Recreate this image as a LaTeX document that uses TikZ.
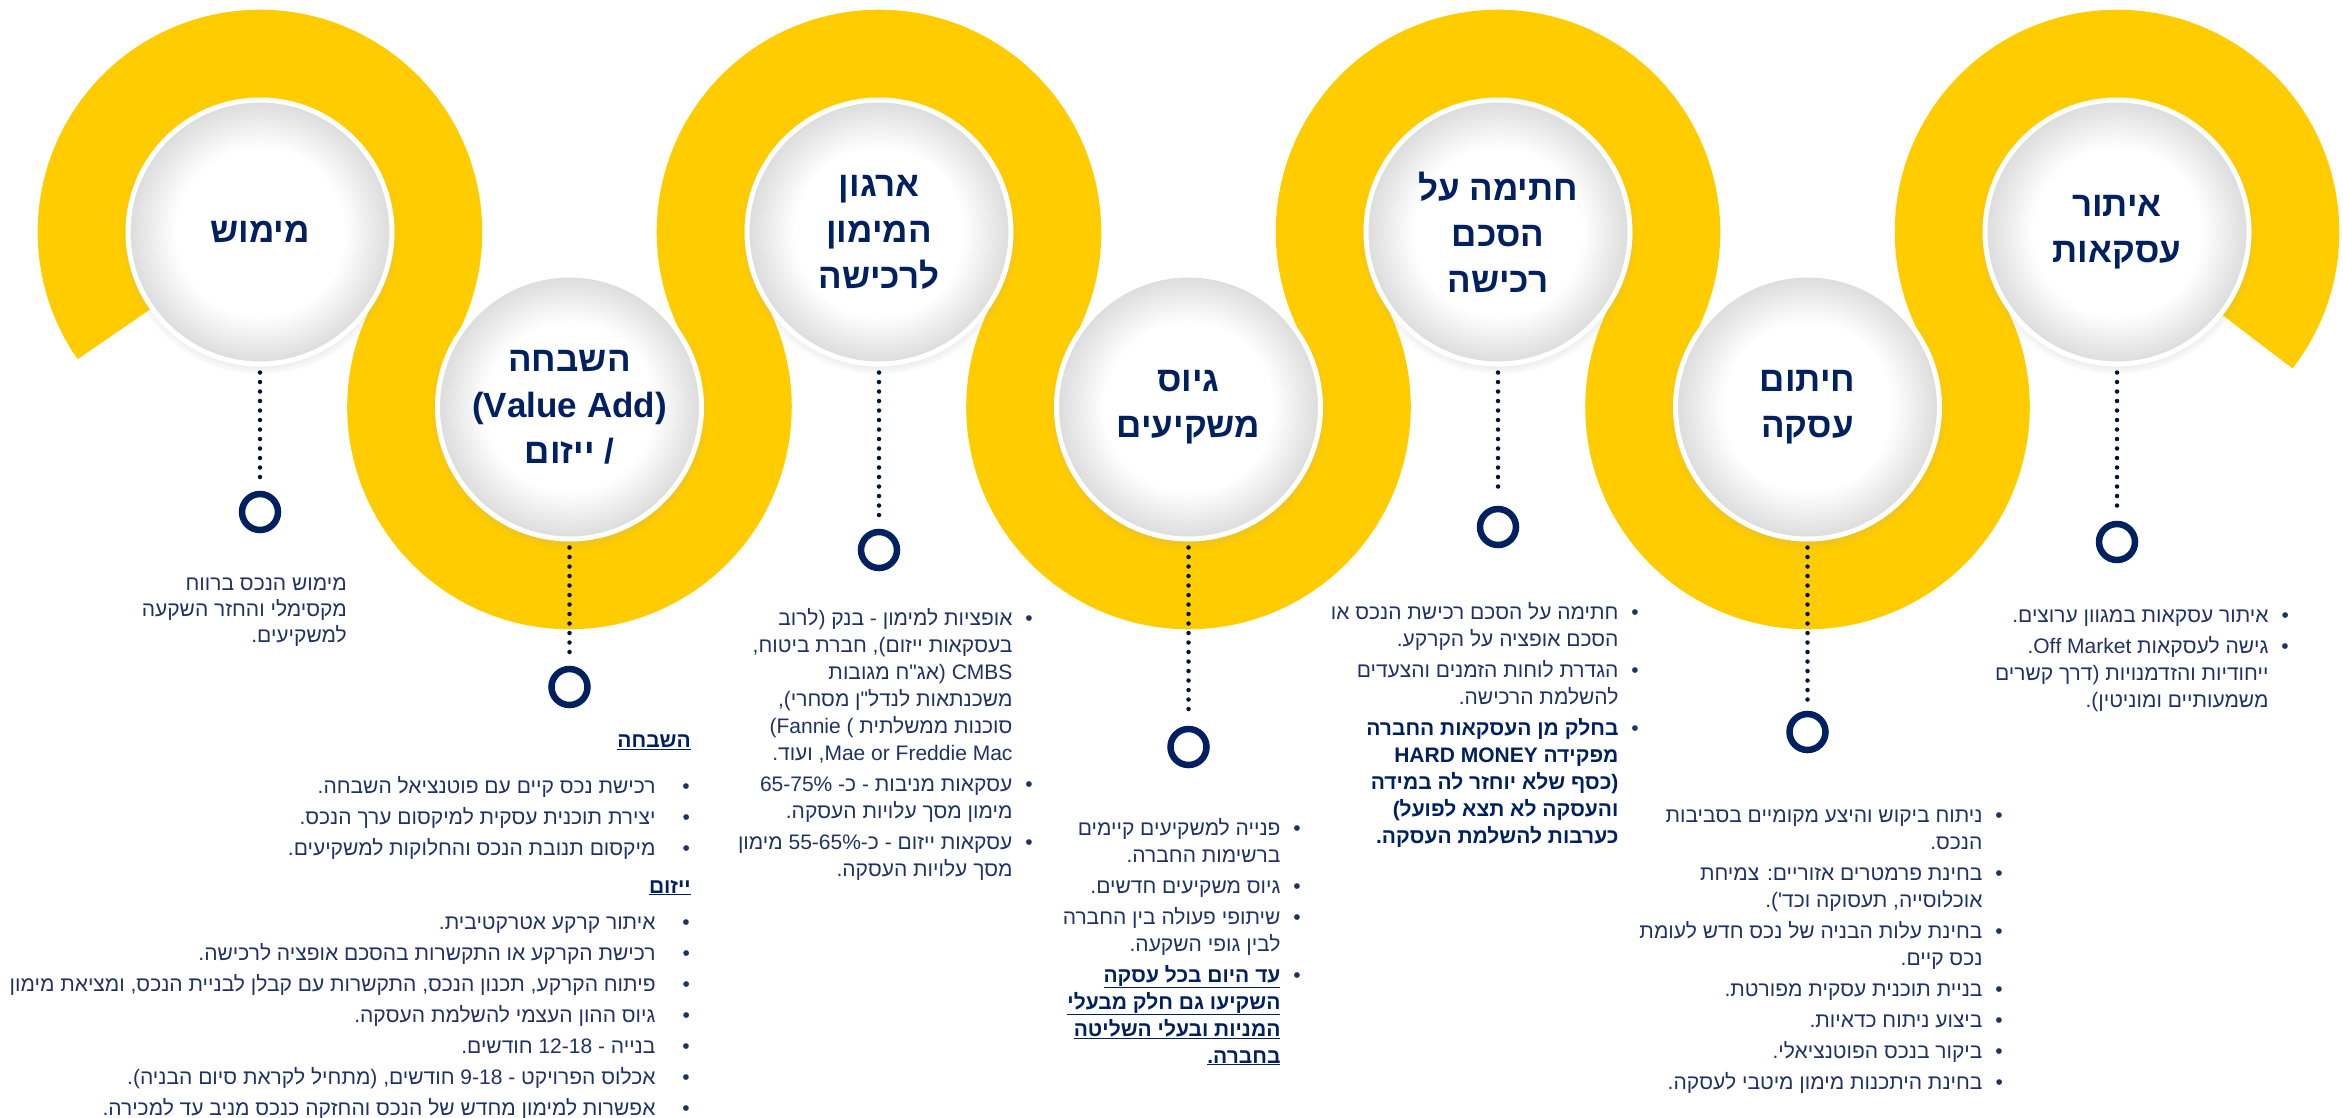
\documentclass[tikz,border=0pt]{standalone}
\usepackage{fontspec}
\setmainfont{Liberation Sans}
\newfontfamily\hebfont[Script=Hebrew]{Liberation Sans}
\TeXXeTstate=1
\usetikzlibrary{shadows}

\definecolor{snakeyellow}{RGB}{255,204,0}
\definecolor{headnavy}{RGB}{0,32,96}
\definecolor{bodynavy}{RGB}{31,50,100}

\newcommand{\rl}[1]{\beginR #1\endR}
\newcommand{\lr}[1]{\beginL #1\endL}
\newcommand{\bul}{\textbullet}

\pgfdeclareradialshading{discshade}{\pgfpoint{0bp}{0bp}}{color(0bp)=(white); color(16bp)=(white); color(25bp)=(gray!28); color(50bp)=(gray!28)}

\tikzset{
  snake/.style={draw=snakeyellow, line width=89pt},
  disc/.style={circle, minimum size=264pt, inner sep=0pt, draw=white, line width=5pt,
    shading=discshade,
    circular drop shadow={shadow xshift=0pt, shadow yshift=-4pt, shadow scale=1.05, fill=gray!70, opacity=.45},
    font=\hebfont\bfseries\fontsize{35}{46}\selectfont, text=headnavy, align=center},
  marker/.style={circle, draw=headnavy, line width=6.5pt, fill=white, minimum size=36pt, inner sep=0pt},
  dotline/.style={draw=headnavy!60!black, line width=4.5pt, line cap=round,
    dash pattern=on 0pt off 9.5pt, shorten <=6pt, shorten >=10pt},
  lst/.style={anchor=north east, inner sep=0pt, text=bodynavy, font=\hebfont\fontsize{21}{27}\selectfont},
  head/.style={anchor=north east, inner sep=0pt, text=headnavy, font=\hebfont\bfseries\fontsize{21}{27}\selectfont}
}

\begin{document}
\begin{tikzpicture}[x=1pt, y=1pt]
\useasboundingbox (0,0) rectangle (2343,-1117);

% the yellow band, one arc per stage
\draw[snake] (2117,-232) ++(-38:177.78)
  arc[start angle=-38, end angle=209.48, radius=177.78]
  arc[start angle=29.48, end angle=-209.48, radius=177.78]
  arc[start angle=-29.48, end angle=209.48, radius=177.78]
  arc[start angle=29.48, end angle=-209.48, radius=177.78]
  arc[start angle=-29.48, end angle=209.48, radius=177.78]
  arc[start angle=29.48, end angle=-209.48, radius=177.78]
  arc[start angle=-29.48, end angle=215, radius=177.78];

% stage discs
\node[disc] (find)  at (2117,-232)   {\rl{איתור}\\\rl{עסקאות}};
\node[disc] (uw)    at (1807.5,-407) {\rl{חיתום}\\\rl{עסקה}};
\node[disc] (sign)  at (1498,-232)   {\rl{חתימה על}\\\rl{הסכם}\\\rl{רכישה}};
\node[disc] (raise) at (1188.5,-407) {\rl{גיוס}\\\rl{משקיעים}};
\node[disc] (fin)   at (879,-232)    {\rl{ארגון}\\\rl{המימון}\\\rl{לרכישה}};
\node[disc] (value) at (569.5,-407)  {\rl{השבחה}\\\lr{(Value Add)}\\\rl{/ ייזום}};
\node[disc] (exit)  at (260,-232)    {\rl{מימוש}};

% markers under the discs
\node[marker] (mfind)  at (2117,-542)   {};
\node[marker] (muw)    at (1807.5,-732) {};
\node[marker] (msign)  at (1498,-527)   {};
\node[marker] (mraise) at (1188.5,-747) {};
\node[marker] (mfin)   at (879,-550)    {};
\node[marker] (mvalue) at (569.5,-687)  {};
\node[marker] (mexit)  at (260,-512)    {};

\draw[dotline] (find.south)  -- (mfind.north);
\draw[dotline] (uw.south)    -- (muw.north);
\draw[dotline] (sign.south)  -- (msign.north);
\draw[dotline] (raise.south) -- (mraise.north);
\draw[dotline] (fin.south)   -- (mfin.north);
\draw[dotline] (value.south) -- (mvalue.north);
\draw[dotline] (exit.south)  -- (mexit.north);

% texts
\node[lst] (findtxt) at (2289,-603) {\begin{tabular}{@{}r@{\hspace{13pt}}c@{}}
\rl{איתור עסקאות במגוון ערוצים.} & \bul\\[4pt]
\rl{גישה לעסקאות \lr{Off Market}.} & \bul\\
\rl{ייחודיות והזדמנויות (דרך קשרים} & \\
\rl{משמעותיים ומוניטין).} & \\
\end{tabular}};

\node[lst] (uwtxt) at (2003,-803) {\begin{tabular}{@{}r@{\hspace{13pt}}c@{}}
\rl{ניתוח ביקוש והיצע מקומיים בסביבות} & \bul\\
\rl{הנכס.} & \\[4pt]
\rl{בחינת פרמטרים אזוריים: צמיחת} & \bul\\
\rl{אוכלוסייה, תעסוקה וכד').} & \\[4pt]
\rl{בחינת עלות הבניה של נכס חדש לעומת} & \bul\\
\rl{נכס קיים.} & \\[4pt]
\rl{בניית תוכנית עסקית מפורטת.} & \bul\\[4pt]
\rl{ביצוע ניתוח כדאיות.} & \bul\\[4pt]
\rl{ביקור בנכס הפוטנציאלי.} & \bul\\[4pt]
\rl{בחינת היתכנות מימון מיטבי לעסקה.} & \bul\\
\end{tabular}};

\node[lst] (signtxt) at (1639,-600) {\begin{tabular}{@{}r@{\hspace{13pt}}c@{}}
\rl{חתימה על הסכם רכישת הנכס או} & \bul\\
\rl{הסכם אופציה על הקרקע.} & \\[4pt]
\rl{הגדרת לוחות הזמנים והצעדים} & \bul\\
\rl{להשלמת הרכישה.} & \\[4pt]
\color{headnavy}\bfseries\rl{בחלק מן העסקאות החברה} & \bul\\
\color{headnavy}\bfseries\rl{מפקידה \lr{HARD MONEY}} & \\
\color{headnavy}\bfseries\rl{(כסף שלא יוחזר לה במידה} & \\
\color{headnavy}\bfseries\rl{והעסקה לא תצא לפועל)} & \\
\color{headnavy}\bfseries\rl{כערבות להשלמת העסקה.} & \\
\end{tabular}};

\node[lst] (raisetxt) at (1301,-816) {\begin{tabular}{@{}r@{\hspace{13pt}}c@{}}
\rl{פנייה למשקיעים קיימים} & \bul\\
\rl{ברשימות החברה.} & \\[4pt]
\rl{גיוס משקיעים חדשים.} & \bul\\[4pt]
\rl{שיתופי פעולה בין החברה} & \bul\\
\rl{לבין גופי השקעה.} & \\[4pt]
\color{headnavy}\bfseries\underline{\rl{עד היום בכל עסקה}} & \bul\\
\color{headnavy}\bfseries\underline{\rl{השקיעו גם חלק מבעלי}} & \\
\color{headnavy}\bfseries\underline{\rl{המניות ובעלי השליטה}} & \\
\color{headnavy}\bfseries\underline{\rl{בחברה.}} & \\
\end{tabular}};

\node[lst] (fintxt) at (1033,-606) {\begin{tabular}{@{}r@{\hspace{13pt}}c@{}}
\rl{אופציות למימון - בנק (לרוב} & \bul\\
\rl{בעסקאות ייזום), חברת ביטוח,} & \\
\rl{\lr{CMBS} (אג"ח מגובות} & \\
\rl{משכנתאות לנדל"ן מסחרי),} & \\
\rl{סוכנות ממשלתית \lr{(Fannie )}} & \\
\rl{\lr{Mae or Freddie Mac}, ועוד.} & \\[4pt]
\rl{עסקאות מניבות - כ- \lr{65-75\%}} & \bul\\
\rl{מימון מסך עלויות העסקה.} & \\[4pt]
\rl{עסקאות ייזום - כ-\lr{55-65\%} מימון} & \bul\\
\rl{מסך עלויות העסקה.} & \\
\end{tabular}};

\node[head] (vahead) at (691,-735) {\underline{\rl{השבחה}}};
\node[lst] (vatxt) at (690,-774) {\begin{tabular}{@{}r@{\hspace{27pt}}c@{}}
\rl{רכישת נכס קיים עם פוטנציאל השבחה.} & \bul\\[4pt]
\rl{יצירת תוכנית עסקית למיקסום ערך הנכס.} & \bul\\[4pt]
\rl{מיקסום תנובת הנכס והחלוקות למשקיעים.} & \bul\\
\end{tabular}};

\node[head] (devhead) at (691,-880) {\underline{\rl{ייזום}}};
\node[lst] (devtxt) at (690,-910) {\begin{tabular}{@{}r@{\hspace{27pt}}c@{}}
\rl{איתור קרקע אטרקטיבית.} & \bul\\[4pt]
\rl{רכישת הקרקע או התקשרות בהסכם אופציה לרכישה.} & \bul\\[4pt]
\rl{פיתוח הקרקע, תכנון הנכס, התקשרות עם קבלן לבניית הנכס, ומציאת מימון} & \bul\\[4pt]
\rl{גיוס ההון העצמי להשלמת העסקה.} & \bul\\[4pt]
\rl{בנייה - 12-18 חודשים.} & \bul\\[4pt]
\rl{אכלוס הפרויקט - 9-18 חודשים, (מתחיל לקראת סיום הבניה).} & \bul\\[4pt]
\rl{אפשרות למימון מחדש של הנכס והחזקה כנכס מניב עד למכירה.} & \bul\\
\end{tabular}};

\node[lst, align=right, font=\hebfont\fontsize{21}{26}\selectfont] (exittxt) at (347,-578)
  {\rl{מימוש הנכס ברווח}\\\rl{מקסימלי והחזר השקעה}\\\rl{למשקיעים.}};
\end{tikzpicture}
\end{document}
